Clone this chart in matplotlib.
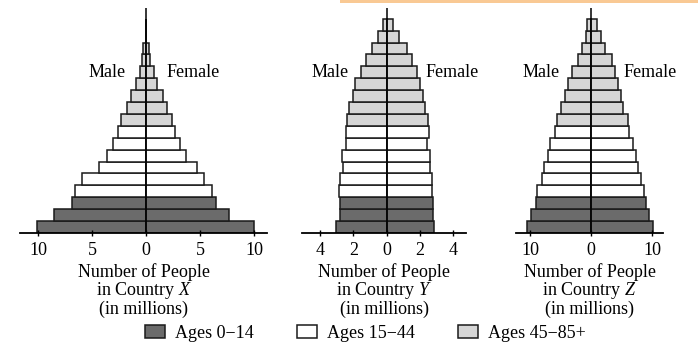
import matplotlib
matplotlib.use("Agg")
import matplotlib.pyplot as plt
from matplotlib.patches import Patch, Rectangle
from matplotlib.ticker import FuncFormatter

plt.rcParams['font.family'] = 'serif'
plt.rcParams['font.serif'] = ['Liberation Serif', 'DejaVu Serif']
plt.rcParams['mathtext.fontset'] = 'custom'
plt.rcParams['mathtext.rm'] = 'Liberation Serif'
plt.rcParams['mathtext.it'] = 'Liberation Serif:italic'

# age groups, bottom to top (5-year bands, last one 85+)
age_groups = ['0-4', '5-9', '10-14', '15-19', '20-24', '25-29', '30-34', '35-39',
              '40-44', '45-49', '50-54', '55-59', '60-64', '65-69', '70-74',
              '75-79', '80-84', '85+']
# 0 = ages 0-14, 1 = ages 15-44, 2 = ages 45-85+
band = [0, 0, 0, 1, 1, 1, 1, 1, 1, 2, 2, 2, 2, 2, 2, 2, 2, 2]

# millions of people
x_male = [10.1, 8.5, 6.9, 6.6, 5.9, 4.4, 3.6, 3.1, 2.6, 2.3, 1.75, 1.4, 0.9, 0.6, 0.4, 0.25, 0, 0]
x_female = [10.0, 7.7, 6.5, 6.1, 5.4, 4.7, 3.7, 3.1, 2.7, 2.4, 1.9, 1.6, 1.0, 0.7, 0.4, 0.25, 0, 0]

y_male = [3.04, 2.8, 2.8, 2.84, 2.8, 2.64, 2.7, 2.46, 2.46, 2.4, 2.24, 2.04, 1.88, 1.56, 1.24, 0.88, 0.54, 0.22]
y_female = [2.84, 2.76, 2.76, 2.72, 2.72, 2.6, 2.6, 2.44, 2.52, 2.48, 2.32, 2.2, 2.0, 1.8, 1.52, 1.24, 0.72, 0.4]

z_male = [10.5, 9.9, 9.1, 8.8, 8.0, 7.65, 7.1, 6.7, 5.9, 5.6, 5.0, 4.3, 3.8, 3.1, 2.2, 1.5, 0.9, 0.6]
z_female = [10.1, 9.45, 9.0, 8.7, 8.25, 7.76, 7.3, 6.9, 6.3, 6.05, 5.3, 4.9, 4.4, 4.0, 3.4, 2.35, 1.7, 1.04]

band_labels = ['Ages 0\u221214', 'Ages 15\u221244', 'Ages 45\u221285+']
band_colors = ['#6b6b6b', '#ffffff', '#d6d6d6']
edge = '#1a1a1a'

fig = plt.figure(figsize=(6.98, 3.52), dpi=100)

panels = [
    # left, width, xlim, ticks, male, female, country, male label x, female label x
    (20, 247, (-11.67, 11.2), [-10, -5, 0, 5, 10], x_male, x_female, 'X', -1.9, 1.85),
    (302, 164, (-5.08, 4.76), [-4, -2, 0, 2, 4], y_male, y_female, 'Y', -2.3, 2.35),
    (516, 147, (-12.3, 11.8), [-10, 0, 10], z_male, z_female, 'Z', -5.1, 5.4),
]

fs = 13
for left, width, xlim, ticks, male, female, country, mx, fx in panels:
    ax = fig.add_axes([left / 698, 1 - 233 / 352, width / 698, 225 / 352])
    pos = list(range(len(age_groups)))
    cols = [band_colors[b] for b in band]
    ax.barh(pos, [-m for m in male], height=1, align='edge', color=cols,
            edgecolor=edge, linewidth=1.1)
    ax.barh(pos, female, height=1, align='edge', color=cols,
            edgecolor=edge, linewidth=1.1)
    ax.axvline(0, color='black', lw=1.1)
    ax.set_xlim(*xlim)
    ax.set_ylim(0, 18.9)
    for s in ['top', 'left', 'right']:
        ax.spines[s].set_visible(False)
    ax.spines['bottom'].set_linewidth(1.3)
    ax.set_yticks([])
    ax.set_xticks(ticks)
    ax.xaxis.set_major_formatter(FuncFormatter(lambda v, p: '%d' % abs(v)))
    ax.tick_params(axis='x', direction='inout', length=5, width=1.0, pad=4,
                   labelsize=fs)
    ax.set_xlabel('Number of People\nin Country $%s$\n(in millions)' % country,
                  fontsize=fs, linespacing=0.96, labelpad=3)
    ax.text(mx, 13.45, 'Male', ha='right', va='center', fontsize=fs)
    ax.text(fx, 13.45, 'Female', ha='left', va='center', fontsize=fs)

handles = [Patch(facecolor=c, edgecolor=edge, linewidth=1.1) for c in band_colors]
fig.legend(handles, band_labels, loc='center left', ncol=3, frameon=False,
           bbox_to_anchor=(145 / 698, 1 - 333 / 352), fontsize=fs,
           borderpad=0, borderaxespad=0, handlelength=1.1, handleheight=0.7,
           handletextpad=0.55, columnspacing=2.4)

# thin orange strip along the top edge
fig.add_artist(Rectangle((340 / 698, 1 - 3 / 352), 1, 3 / 352,
                         transform=fig.transFigure, color='#f9c994', lw=0))

fig.savefig('out.png', dpi=100)
